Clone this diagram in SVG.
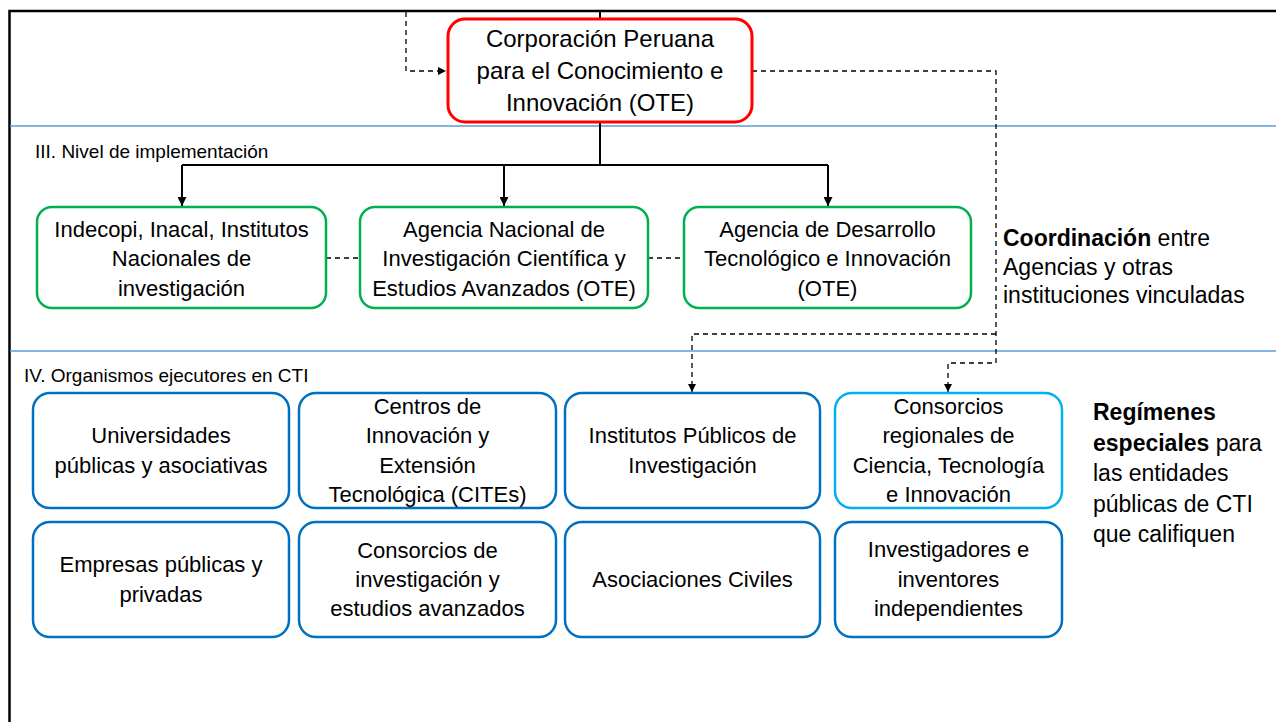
<svg xmlns="http://www.w3.org/2000/svg" width="1276" height="722" viewBox="0 0 1276 722">
<style>
.ln{stroke:#000;stroke-width:2;fill:none}
.dsh{stroke:#000;stroke-width:1.3;fill:none;stroke-dasharray:5 4}
.sep{stroke:#5B9BD5;stroke-width:1.5}
.frame{stroke:#000;stroke-width:2.5;fill:none}
.box{fill:#fff;stroke-width:2.5}
.red{stroke:#FF0000;stroke-width:3}
.green{stroke:#00B050}
.blue{stroke:#0070C0}
.cyan{stroke:#00B0F0}
text{font-family:"Liberation Sans",Arial,sans-serif;fill:#000}
.t22{font-size:22px;text-anchor:middle}
.t24{font-size:24px;text-anchor:middle}
.lbl{font-size:19px}
.side{font-size:23px}
.b{font-weight:bold}
</style>
<defs>
<marker id="arr" viewBox="0 0 10 10" refX="10" refY="5" markerWidth="9" markerHeight="9" markerUnits="userSpaceOnUse" orient="auto"><path d="M0,0 L10,5 L0,10 z" fill="#000"/></marker>
<marker id="arrs" viewBox="0 0 10 10" refX="10" refY="5" markerWidth="8" markerHeight="8" markerUnits="userSpaceOnUse" orient="auto"><path d="M0,0 L10,5 L0,10 z" fill="#000"/></marker>
</defs>
<rect width="1276" height="722" fill="#fff"/>
<g id="frame">
<path class="frame" d="M9.5,722 V11 H1276"/>
<line class="sep" x1="10" y1="126" x2="1276" y2="126"/>
<line class="sep" x1="10" y1="351" x2="1276" y2="351"/>
<text class="lbl" x="35" y="158">III. Nivel de implementación</text>
<text class="lbl" x="24" y="382">IV. Organismos ejecutores en CTI</text>
</g>
<g id="connectors">
<path class="ln" d="M600,11 V19"/>
<path class="ln" d="M600,122 V165"/>
<path class="ln" d="M182,165 H828"/>
<path class="ln" d="M182,165 V206" marker-end="url(#arr)"/>
<path class="ln" d="M504,165 V206" marker-end="url(#arr)"/>
<path class="ln" d="M828,165 V206" marker-end="url(#arr)"/>
<path class="dsh" d="M406,12 V71 H446" marker-end="url(#arrs)"/>
<path class="dsh" d="M752,71 H996 V363 H948 V392" marker-end="url(#arrs)"/>
<path class="dsh" d="M996,334 H692 V392" marker-end="url(#arrs)"/>
<path class="dsh" d="M326,258 H360"/>
<path class="dsh" d="M648,258 H684"/>
</g>
<g id="ote">
<rect class="box red" x="448" y="19" width="304" height="103" rx="17"/>
<text class="t24" x="600" y="47">Corporación Peruana</text>
<text class="t24" x="600" y="79">para el Conocimiento e</text>
<text class="t24" x="600" y="111">Innovación (OTE)</text>
</g>
<g id="indecopi">
<rect class="box green" x="37" y="207" width="289" height="101" rx="15"/>
<text class="t22" x="181.5" y="236.5">Indecopi, Inacal, Institutos</text>
<text class="t22" x="181.5" y="266">Nacionales de</text>
<text class="t22" x="181.5" y="295.5">investigación</text>
</g>
<g id="anic">
<rect class="box green" x="360" y="207" width="288" height="101" rx="15"/>
<text class="t22" x="504" y="236.5">Agencia Nacional de</text>
<text class="t22" x="504" y="266">Investigación Científica y</text>
<text class="t22" x="504" y="295.5">Estudios Avanzados (OTE)</text>
</g>
<g id="adti">
<rect class="box green" x="684" y="207" width="287" height="101" rx="15"/>
<text class="t22" x="827.5" y="236.5">Agencia de Desarrollo</text>
<text class="t22" x="827.5" y="266">Tecnológico e Innovación</text>
<text class="t22" x="827.5" y="295.5">(OTE)</text>
</g>
<g id="coordinacion">
<text class="side" x="1003" y="246"><tspan class="b">Coordinación</tspan> entre</text>
<text class="side" x="1003" y="274.5">Agencias y otras</text>
<text class="side" x="1003" y="303">instituciones vinculadas</text>
</g>
<g id="universidades">
<rect class="box blue" x="33" y="393" width="256" height="115" rx="17"/>
<text class="t22" x="161" y="443">Universidades</text>
<text class="t22" x="161" y="473">públicas y asociativas</text>
</g>
<g id="cites">
<rect class="box blue" x="299" y="393" width="257" height="115" rx="17"/>
<text class="t22" x="427.5" y="413.5">Centros de</text>
<text class="t22" x="427.5" y="443">Innovación y</text>
<text class="t22" x="427.5" y="472.5">Extensión</text>
<text class="t22" x="427.5" y="502">Tecnológica (CITEs)</text>
</g>
<g id="institutos">
<rect class="box blue" x="565" y="393" width="255" height="115" rx="17"/>
<text class="t22" x="692.5" y="443">Institutos Públicos de</text>
<text class="t22" x="692.5" y="473">Investigación</text>
</g>
<g id="consorcios-regionales">
<rect class="box cyan" x="835" y="393" width="227" height="115" rx="17"/>
<text class="t22" x="948.5" y="413.5">Consorcios</text>
<text class="t22" x="948.5" y="443">regionales de</text>
<text class="t22" x="948.5" y="472.5">Ciencia, Tecnología</text>
<text class="t22" x="948.5" y="502">e Innovación</text>
</g>
<g id="empresas">
<rect class="box blue" x="33" y="522" width="256" height="115" rx="17"/>
<text class="t22" x="161" y="572">Empresas públicas y</text>
<text class="t22" x="161" y="601.5">privadas</text>
</g>
<g id="consorcios-investigacion">
<rect class="box blue" x="299" y="522" width="257" height="115" rx="17"/>
<text class="t22" x="427.5" y="558">Consorcios de</text>
<text class="t22" x="427.5" y="587">investigación y</text>
<text class="t22" x="427.5" y="616">estudios avanzados</text>
</g>
<g id="asociaciones">
<rect class="box blue" x="565" y="522" width="255" height="115" rx="17"/>
<text class="t22" x="692.5" y="587">Asociaciones Civiles</text>
</g>
<g id="investigadores">
<rect class="box blue" x="835" y="522" width="227" height="115" rx="17"/>
<text class="t22" x="948.5" y="557">Investigadores e</text>
<text class="t22" x="948.5" y="586.5">inventores</text>
<text class="t22" x="948.5" y="616">independientes</text>
</g>
<g id="regimenes">
<text class="side" x="1093" y="420"><tspan class="b">Regímenes</tspan></text>
<text class="side" x="1093" y="450.5"><tspan class="b">especiales</tspan> para</text>
<text class="side" x="1093" y="481">las entidades</text>
<text class="side" x="1093" y="511.5">públicas de CTI</text>
<text class="side" x="1093" y="542">que califiquen</text>
</g>
</svg>
